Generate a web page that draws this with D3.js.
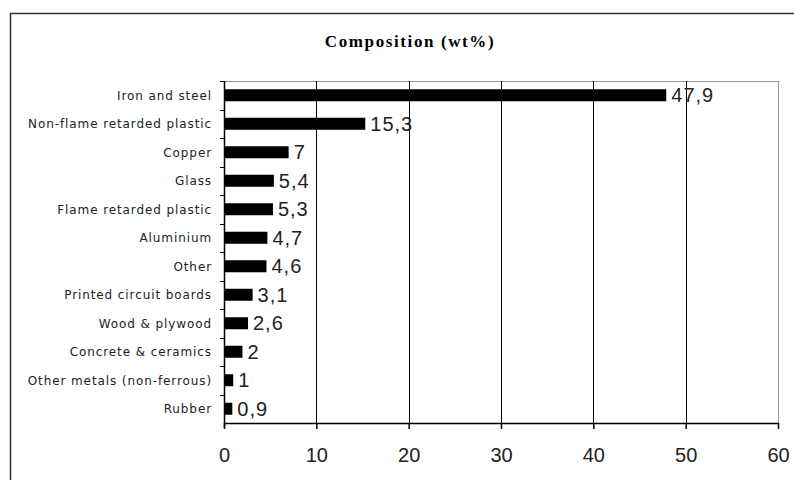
<!DOCTYPE html>
<meta charset="utf-8">
<script src="https://d3js.org/d3.v7.min.js"></script>
<style>
body { margin: 0; background: #fff; }
</style>
<div id="chart"></div>
<script>

// data
var categories = ["Iron and steel", "Non-flame retarded plastic", "Copper", "Glass",
  "Flame retarded plastic", "Aluminium", "Other", "Printed circuit boards",
  "Wood & plywood", "Concrete & ceramics", "Other metals (non-ferrous)", "Rubber"];
var values = [47.9, 15.3, 7, 5.4, 5.3, 4.7, 4.6, 3.1, 2.6, 2, 1, 0.9];
var xTicks = [0, 10, 20, 30, 40, 50, 60];

var W = 794, H = 480;
var margin = {top: 81, right: 16, bottom: 57, left: 224},
  width = W - margin.left - margin.right,
  height = H - margin.top - margin.bottom;

var svg = d3.select("#chart").append("svg")
  .attr("width", W)
  .attr("height", H);

// outer chart frame (runs off the right and bottom of the picture)
svg.append("path")
  .attr("d", "M10.5," + H + "V13.5H" + W)
  .attr("fill", "none")
  .attr("stroke", "#333")
  .attr("stroke-width", 1.5);

svg.append("text")
  .attr("x", 410)
  .attr("y", 47)
  .attr("text-anchor", "middle")
  .style("font-family", "'Liberation Serif', serif")
  .style("font-weight", "bold")
  .style("font-size", "17px")
  .style("letter-spacing", "1.6px")
  .text("Composition (wt%)");

var g = svg.append("g")
  .attr("transform", "translate(" + margin.left + "," + margin.top + ")");

var x = d3.scaleLinear().domain([0, 60]).range([0, width]);
var y = d3.scaleBand().domain(categories).range([0, height]).padding(0);

// plot area border (grey)
g.append("rect")
  .attr("x", 0.5).attr("y", 0.5)
  .attr("width", width).attr("height", height)
  .attr("fill", "none")
  .attr("stroke", "#999");

// vertical gridlines
g.selectAll(".grid")
  .data(xTicks.slice(1, -1))
  .enter().append("line")
    .attr("x1", function(d) { return Math.round(x(d)) + 0.5; })
    .attr("x2", function(d) { return Math.round(x(d)) + 0.5; })
    .attr("y1", 0)
    .attr("y2", height)
    .attr("stroke", "#000");

// bars
var barH = 12;
g.selectAll(".bar")
  .data(values)
  .enter().append("rect")
    .attr("x", x(0))
    .attr("y", function(d, i) { return y(categories[i]) + y.bandwidth() / 2 - barH / 2; })
    .attr("width", function(d) { return x(d) - x(0); })
    .attr("height", barH)
    .attr("fill", "#000");

// value labels
g.selectAll(".val")
  .data(values)
  .enter().append("text")
    .attr("x", function(d) { return x(d) + 5; })
    .attr("y", function(d, i) { return y(categories[i]) + y.bandwidth() / 2 + 7; })
    .style("font-family", "'Liberation Sans', Arial, sans-serif")
    .style("font-size", "20px")
    .style("letter-spacing", "1px")
    .attr("fill", "#222")
    .text(function(d) { return String(d).replace(".", ","); });

// y axis: ticks between categories
var yAxis = g.append("g");
yAxis.append("line")
  .attr("x1", 0.5).attr("x2", 0.5)
  .attr("y1", 0).attr("y2", height + 5)
  .attr("stroke", "#000").attr("stroke-width", 1.5);
yAxis.selectAll(".ytick")
  .data(categories)
  .enter().append("line")
    .attr("x1", -4).attr("x2", 0)
    .attr("y1", function(d) { return Math.round(y(d)) + 0.5; })
    .attr("y2", function(d) { return Math.round(y(d)) + 0.5; })
    .attr("stroke", "#000");
yAxis.selectAll(".ylab")
  .data(categories)
  .enter().append("text")
    .attr("x", -12)
    .attr("y", function(d) { return y(d) + y.bandwidth() / 2 + 4.5; })
    .attr("text-anchor", "end")
    .style("font-family", "'DejaVu Sans', sans-serif")
    .style("font-size", "12px")
    .style("letter-spacing", "0.9px")
    .attr("fill", "#222")
    .text(function(d) { return d; });

// x axis
var xAxis = g.append("g")
  .attr("transform", "translate(0," + height + ")")
  .call(d3.axisBottom(x).tickValues(xTicks).tickSize(6).tickFormat(d3.format("d")));
xAxis.select(".domain").attr("stroke", "#000").attr("stroke-width", 1.5)
  .attr("d", "M0,0.5H" + (width + 0.5));
xAxis.selectAll(".tick line").attr("stroke", "#000").attr("stroke-width", 1.5);
xAxis.selectAll(".tick text")
  .attr("y", 25)
  .style("font-family", "'Liberation Sans', Arial, sans-serif")
  .style("font-size", "20px")
  .attr("fill", "#222");

</script>
